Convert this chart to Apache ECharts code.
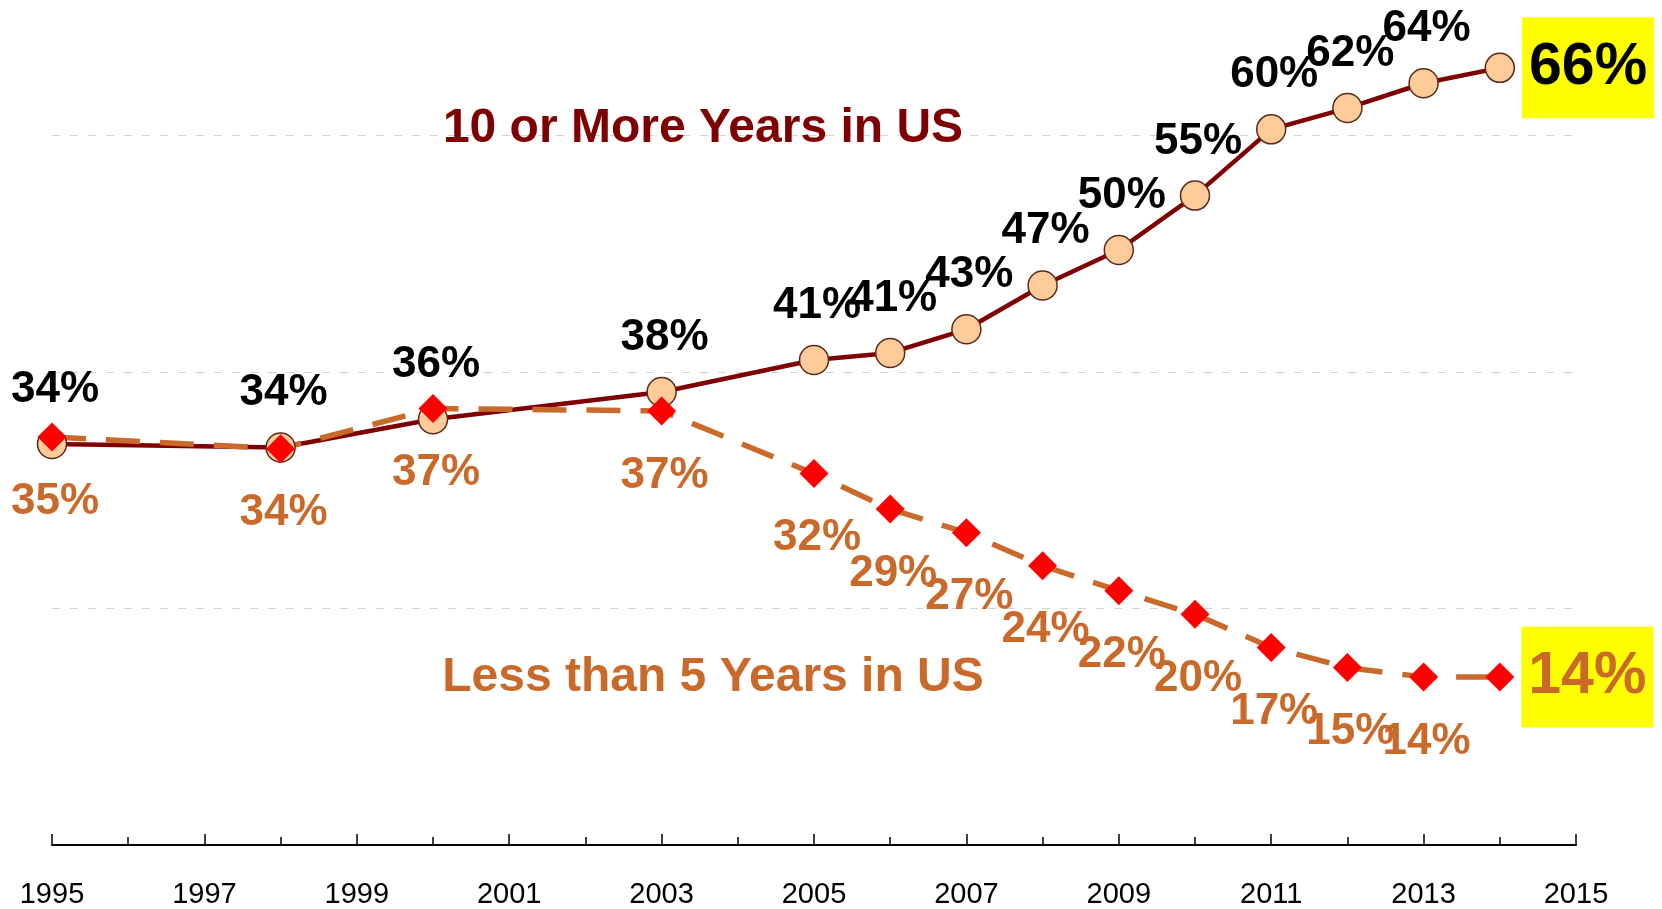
<!DOCTYPE html>
<html>
<head>
<meta charset="utf-8">
<title>Years in US</title>
<script src="https://cdn.jsdelivr.net/npm/echarts@6/dist/echarts.min.js"></script>
<style>
    html, body { margin: 0; padding: 0; background: #fff; }
    #chart { width: 1662px; height: 909px; }
</style>
</head>
<body>
<div id="chart"></div>
<script>
// =================================================================================
// Data
var baseYear = 1995;
var years = [1995, 1998, 2000, 2003, 2005, 2006, 2007, 2008, 2009, 2010, 2011, 2012, 2013, 2014];

var more10 = [33.9, 33.6, 36.0, 38.3, 41.0, 41.6, 43.6, 47.3, 50.3, 54.9, 60.5, 62.3, 64.4, 65.7];
var more10Labels = ['34%', '34%', '36%', '38%', '41%', '41%', '43%', '47%', '50%', '55%', '60%', '62%', '64%', '66%'];

var less5 = [34.5, 33.5, 36.9, 36.7, 31.4, 28.4, 26.4, 23.6, 21.5, 19.5, 16.7, 15.0, 14.2, 14.2];
var less5Labels = ['35%', '34%', '37%', '37%', '32%', '29%', '27%', '24%', '22%', '20%', '17%', '15%', '14%', '14%'];

var FONT = '"Liberation Sans", Arial, sans-serif';
var ORANGE = '#C96A2B';
var MAROON = '#7F0000';

// build [x, y] pairs, x counted from baseYear so the axis ticks start at 0
function buildData(values, lastColor) {
    var res = [];
    for (var i = 0; i < values.length; i++) {
        var item = { value: [years[i] - baseYear, values[i]] };
        if (i === values.length - 1) {
            item.label = {
                position: 'right',
                distance: 7,
                offset: [0, 0],
                fontSize: 59,
                lineHeight: 62,
                color: lastColor,
                backgroundColor: '#FFFF00',
                padding: [21, 7, 18, 7]
            };
        }
        res.push(item);
    }
    return res;
}

var chart = echarts.init(document.getElementById('chart'));

var option = {
    animation: false,
    backgroundColor: '#fff',
    grid: { left: 52, right: 86, top: 17, bottom: 57, containLabel: false },
    xAxis: {
        type: 'value',
        min: 0,
        max: 20,
        interval: 2,
        axisLine: { show: true, lineStyle: { color: '#000', width: 2 } },
        axisTick: { show: true, inside: true, length: 11, lineStyle: { color: '#000', width: 1.5 } },
        minorTick: { show: true, splitNumber: 2, length: 8, lineStyle: { color: '#000', width: 1.5 } },
        axisLabel: {
            show: true,
            margin: 35,
            fontSize: 29,
            fontFamily: FONT,
            color: '#000',
            hideOverlap: false,
            formatter: function (v) { return String(baseYear + v); }
        },
        splitLine: { show: false },
        minorSplitLine: { show: false }
    },
    yAxis: {
        type: 'value',
        min: 0,
        max: 70,
        interval: 20,
        axisLine: { show: false },
        axisTick: { show: false },
        axisLabel: { show: false },
        splitLine: {
            show: true,
            showMinLine: false,
            showMaxLine: false,
            lineStyle: { color: '#D4D4D4', width: 1.2, type: [8, 10] }
        }
    },
    graphic: [
        {
            type: 'text', x: 703, y: 129, z: 1,
            style: {
                text: '10 or More Years in US',
                fill: MAROON,
                font: 'bold 48px ' + FONT,
                align: 'center',
                verticalAlign: 'middle'
            }
        },
        {
            type: 'text', x: 713, y: 678, z: 1,
            style: {
                text: 'Less than 5 Years in US',
                fill: ORANGE,
                font: 'bold 48px ' + FONT,
                align: 'center',
                verticalAlign: 'middle'
            }
        }
    ],
    series: [
        {
            name: '10 or More Years in US',
            type: 'line',
            data: buildData(more10, '#000'),
            symbol: 'circle',
            symbolSize: 29,
            lineStyle: { color: MAROON, width: 4.5 },
            itemStyle: { color: '#FFCC99', borderColor: '#5A2A1A', borderWidth: 1.5 },
            label: {
                show: true,
                position: 'top',
                distance: 17,
                offset: [3, 0],
                fontSize: 44,
                fontWeight: 'bold',
                fontFamily: FONT,
                color: '#000',
                formatter: function (p) { return more10Labels[p.dataIndex]; }
            },
            emphasis: { disabled: true }
        },
        {
            name: 'Less than 5 Years in US',
            type: 'line',
            data: buildData(less5, ORANGE),
            symbol: 'diamond',
            symbolSize: 29,
            lineStyle: { color: ORANGE, width: 5.5, type: [34, 20] },
            itemStyle: { color: '#FF0000', borderWidth: 0 },
            label: {
                show: true,
                position: 'bottom',
                distance: 28,
                offset: [3, 0],
                fontSize: 44,
                fontWeight: 'bold',
                fontFamily: FONT,
                color: ORANGE,
                formatter: function (p) { return less5Labels[p.dataIndex]; }
            },
            emphasis: { disabled: true }
        }
    ]
};

chart.setOption(option);
</script>
</body>
</html>
